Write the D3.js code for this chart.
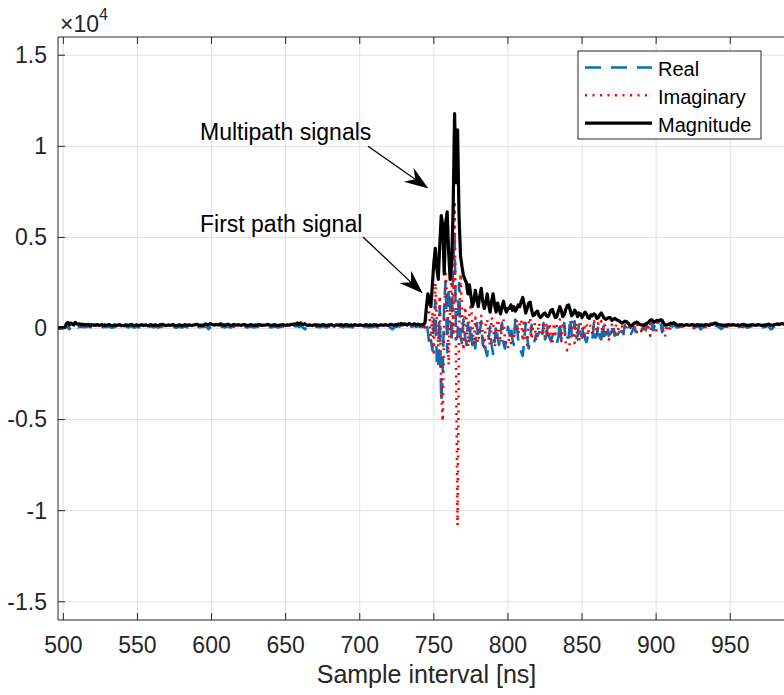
<!DOCTYPE html>
<html>
<head>
<meta charset="utf-8">
<script src="https://cdn.jsdelivr.net/npm/d3@7"></script>
<style>
  html, body { margin: 0; padding: 0; background: #fff; overflow: hidden; }
  svg { display: block; font-family: "Liberation Sans", Arial, Helvetica, sans-serif; }
</style>
</head>
<body>
<svg id="chart" width="784" height="695"></svg>
<script>
// Channel impulse response, one sample per ns starting at 496 ns (raw counts)
const sampleStart = 496;
const sampleStep = 1;

const realPart = [
  10, 20, 10, 30, 20, 30, 120, 60, -40, 80,
  40, -60, 30, 100, 60, 120, 80, 110, 60, 100,
  90, 120, 70, 100, 80, 90, 60, 110, 50, 80,
  110, 70, 100, 80, 90, 120, 60, 40, 80, 100,
  50, 90, 110, 80, 60, 40, 100, 90, 60, 110,
  130, 70, 50, 100, 90, 60, 80, 110, 50, 90,
  100, 40, 80, 120, 90, 60, 100, 80, 50, 90,
  110, 130, 90, 50, 80, 100, 60, 90, 120, 80,
  40, 60, 100, 90, 50, 80, 110, 90, 60, 100,
  80, 50, 90, 110, 130, 100, 60, 90, 80, 100,
  120, 60, -30, 40, 100, 70, 50, 110, 90, 70,
  130, 100, 80, 60, 90, 120, 80, 50, 90, 110,
  100, 70, 110, 90, 60, 100, 120, 90, 50, 80,
  100, 110, 70, 60, 100, 90, 120, 100, 60, 90,
  70, 100, 130, 90, 60, 70, 100, 110, 80, 50,
  90, 100, 120, 90, 60, 100, 80, 110, 130, 100,
  140, 110, 160, 80, 150, 100, 20, -40, 30, 60,
  40, -50, 30, 70, 110, 80, 100, 60, 90, 120,
  100, 70, 60, 100, 90, 110, 80, 50, 90, 100,
  70, 110, 90, 60, 100, 120, 90, 80, 100, 60,
  90, 110, 70, 60, 100, 90, 50, 70, 110, 90,
  60, 100, 70, 90, 120, 100, 60, 70, 100, 90,
  70, 110, 90, 60, 100, 30, -40, 20, 110, 90,
  140, 110, 160, 100, 150, 120, 80, 150, 140, 100,
  120, 150, 90, 130, 110, 80, 100, 90,
  120, 400, -200, -900, -600, -1200, 300, 1500, -1800, -2200,
  1200, -4000, -2500, 1500, 2600, -1300, 2200, 1200, -800, 3500,
  5200, -600, -400, 2500, -500, -800, 500, -400, -900, 300,
  -700, 200, -900, -500, -1100, 300, -600, -200, 400, -900,
  -500, -1200, -1500, -600, 100, -900, -1400, -700, 200, -500,
  -900, -300, 300, -800, -1100, -500, 100,
  -300, 200, -600, -900, 650, 300, -700, -1000, -1300, -1500,
  -600, 300, -500, -1100, -700, 200, -500, -700, -300, -400,
  -200, -500, -550, 300, -600, -400, 200, -500, -700, -400,
  -300, -600, -800, -500, 400, -600, -300, 300, -700, -500,
  -500, 600, -300, -500, 400, -600, -400, 300, -300, -500,
  200, -600, -750, -400, -500, -700, -600, 300, -500, -400,
  200, -500, -600, 300, -400, -350, 200, -400, -300, -200,
  300, -400, -300, -350, -200, 150, -200, -250, 200, -100,
  -200, -100, -300, -150, 100, -100, -200, 150, 50, -100,
  50, 100, -100, 150, -150, 200, 300, -100, 150, 200,
  250, 100, 300, -200, 150, 50, -100, 80, 120, 150,
  100, 180, 120, 50, 90, 110, 130, 100, 80, 120,
  130, 100, 80, 140, 110, 60, 90, 120, 80, -50,
  40, 80, 110, 130, 100, 60, 120, 100, 150, 170,
  140, 80, 30, -30, 60, 90, 110, 100, 120, 80,
  110, 140, 100, 60, 110, 90, 100, 120, 130, 110,
  60, 50, 90, 110, 130, 100, 60, 100, 120, 110,
  50, 60, 100, 90, 120, 130, -20, -40, 60, 110,
  140, 150, 120, 140, 170, 130, 150, 120, 140, 160
];

const imagPart = [
  20, 30, 20, 40, 30, 50, 220, 300, 180, 260,
  240, 180, 300, 240, 200, 220, 170, 200, 160, 190,
  170, 190, 150, 180, 160, 170, 160, 190, 140, 160,
  170, 150, 170, 150, 160, 180, 150, 130, 150, 170,
  140, 160, -30, 150, 140, 130, 170, 160, 150, 170,
  190, 160, 140, 170, 160, 150, 150, 180, 140, 160,
  170, 130, 150, 180, 160, 150, 170, 150, 140, -40,
  170, 190, 160, 140, 150, 170, 150, 160, 180, 150,
  140, 150, 170, 160, 140, 150, 180, 160, 150, 170,
  150, 140, 160, 180, 190, 170, 150, 160, 150, 170,
  210, 200, 180, 250, 200, 180, 160, 190, 180, 160,
  220, 190, 170, 160, 180, 200, 170, 150, 160, 190,
  170, 160, 180, 160, 150, 170, 190, 160, 140, 150,
  170, 180, 160, 150, 170, 160, 190, 170, 150, 160,
  150, 170, 190, 160, 150, 150, 170, 180, 160, 140,
  160, 170, 190, 160, 150, 170, 150, 180, 190, 170,
  210, 200, 250, 170, 260, 220, 200, 240, 160, 150,
  170, 160, 140, 160, 180, 150, 170, 150, 160, 190,
  170, 160, 150, 170, 160, 180, -50, 140, 160, 170,
  150, 180, 160, 150, 170, 190, 160, 150, 170, 150,
  160, 180, 150, 150, 170, 160, 140, 150, 180, 160,
  150, 170, 150, 160, 190, 170, 150, 150, 170, 160,
  150, 180, 160, 150, 170, 200, 180, 160, 180, 160,
  210, 190, 240, 170, 220, 190, 160, 230, 210, 180,
  190, 220, 170, 200, 190, 160, 180, 170,
  60, 700, 1300, 800, -700, 900, -1500, 2500, 600, -1000,
  1800, -3500, -5100, 800, 3000, 1500, -2000, 1000, 3000, -400,
  7000, -2000, -10800, -300, 3000, 1000, -1200, 1200, 500, -1000,
  800, 1400, 300, -900, 600, -500, -800, 300, 700, -400,
  -1200, 300, 500, -600, -900, 600, 400, -1000, -700, 500,
  200, -800, 300, 500, -600, -900, -1100,
  -300, -800, -400, -600, 200, 400, -300, 300, 500, -700,
  500, -600, -900, 300, 600, -600, 200, 300, -700, -300,
  300, -300, -400, 300, -500, 200, -500, 300, -600, -900,
  300, -300, 200, 400, 500, -700, 200, 300, -800, -1200,
  -1100, -700, 300, 400, -800, 300, -500, -800, 300, 200,
  -600, 300, 200, -400, 200, 100, -300, 400, 300, -300,
  300, 200, 400, -500, 200, 100, -400, -600, -500, 200,
  200, -400, 250, 200, -300, 150, 100, -300, 200, 250,
  150, -150, 100, 100, 200, -250, 200, 150, 100, -150,
  100, -150, 150, 200, 250, -400, 300, 250, 200, -300,
  350, 350, 400, 400, -250, -450, 150, 200, -200, 250,
  250, 250, 200, 180, 150, 100, -80, 120, 100, 150,
  150, 140, 160, 150, -80, 140, 150, 160, 150, 160,
  170, 150, 170, -60, 150, 150, 200, 200, 220, 250,
  220, 190, 150, 180, 150, -50, 170, 160, 170, 150,
  160, 170, 150, 140, 170, 150, 160, -60, 180, 170,
  150, 150, 160, 170, 180, 160, 150, 170, 170, 160,
  140, 150, 170, 160, 180, 200, 170, 150, 160, 170,
  190, 220, 190, 210, 230, 200, 210, 190, 200, 220
];

const magnitude = [
  30, 40, 30, 50, 40, 60, 260, 330, 190, 300,
  250, 190, 340, 270, 220, 260, 200, 240, 180, 220,
  200, 230, 170, 210, 190, 200, 180, 220, 160, 190,
  210, 170, 200, 180, 190, 220, 170, 150, 180, 200,
  160, 190, 210, 180, 170, 150, 200, 190, 170, 210,
  230, 180, 160, 200, 190, 170, 180, 210, 160, 190,
  200, 150, 180, 220, 190, 170, 200, 180, 160, 190,
  210, 230, 190, 160, 180, 200, 170, 190, 220, 180,
  150, 170, 200, 190, 160, 180, 210, 190, 170, 200,
  180, 160, 190, 210, 230, 200, 170, 190, 180, 200,
  250, 220, 190, 270, 240, 200, 180, 230, 210, 190,
  260, 220, 200, 180, 210, 240, 200, 170, 190, 220,
  200, 180, 210, 190, 170, 200, 220, 190, 160, 180,
  200, 210, 180, 170, 200, 190, 220, 200, 170, 190,
  180, 200, 230, 190, 170, 180, 200, 210, 180, 160,
  190, 200, 220, 190, 170, 200, 180, 210, 230, 200,
  260, 230, 300, 200, 310, 250, 220, 270, 190, 170,
  200, 180, 160, 190, 210, 180, 200, 170, 190, 220,
  200, 180, 170, 200, 190, 210, 180, 160, 190, 200,
  180, 210, 190, 170, 200, 220, 190, 180, 200, 170,
  190, 210, 180, 170, 200, 190, 160, 180, 210, 190,
  170, 200, 180, 190, 220, 200, 170, 180, 200, 190,
  180, 210, 190, 170, 200, 230, 200, 180, 210, 190,
  250, 220, 280, 200, 260, 230, 190, 270, 250, 210,
  230, 260, 200, 240, 220, 190, 210, 200,
  300, 1200, 1900, 1500, 1200, 2400, 3600, 4400, 3300, 2700,
  4600, 6200, 5700, 3000, 5800, 6400, 4200, 2700, 3500, 6500,
  11800, 8000, 10900, 6200, 4000, 3400, 2900, 2700, 2500, 1900,
  2400, 1800, 1200, 1500, 2100, 1600, 1200, 1800, 2200, 1500,
  1100, 1400, 1900, 1300, 900, 1500, 1900, 1300, 900, 1400,
  1100, 800, 1200, 1500, 1100, 900, 1100,
  1100, 1300, 1000, 1200, 950, 1100, 1300, 1200, 1500, 1700,
  1300, 850, 1100, 1400, 1450, 1000, 700, 750, 900, 950,
  700, 600, 700, 800, 850, 700, 650, 800, 1000, 1050,
  800, 600, 650, 950, 1200, 1000, 650, 750, 1050, 1250,
  1300, 1000, 700, 800, 1000, 900, 650, 850, 800, 600,
  750, 900, 800, 600, 550, 750, 700, 800, 750, 550,
  600, 750, 850, 700, 550, 500, 550, 600, 600, 450,
  500, 550, 500, 450, 420, 350, 300, 350, 400, 380,
  300, 200, 150, 200, 280, 320, 350, 300, 220, 200,
  180, 200, 250, 300, 350, 450, 480, 400, 350, 420,
  450, 400, 480, 450, 300, 200, 180, 220, 250, 300,
  280, 320, 250, 200, 180, 200, 220, 190, 170, 200,
  210, 180, 190, 220, 200, 170, 190, 210, 180, 200,
  190, 170, 200, 220, 190, 180, 250, 230, 280, 300,
  260, 220, 190, 200, 180, 170, 200, 190, 210, 180,
  200, 220, 190, 170, 200, 180, 190, 210, 230, 200,
  180, 170, 190, 200, 220, 190, 180, 200, 210, 190,
  170, 180, 200, 190, 220, 240, 200, 180, 190, 210,
  230, 260, 220, 250, 280, 240, 260, 230, 250, 270
];

const xTicks = [500, 550, 600, 650, 700, 750, 800, 850, 900, 950];
const yTicks = [-15000, -10000, -5000, 0, 5000, 10000, 15000];
const seriesNames = ["Real", "Imaginary", "Magnitude"];
const seriesColors = ["#0072BD", "#FF0000", "#000000"];

// Text callouts with arrows, anchored in data units (ns, counts)
const calloutLabels = ["Multipath signals", "First path signal"];
const calloutText = [[592.2, 10350], [592.2, 5300]];
const calloutFrom = [[705.6, 10000], [702.2, 5020]];
const calloutTo = [[746.3, 7690], [742.5, 1930]];

const plot = { left: 58, right: 795, top: 37, bottom: 620 };
const x = d3.scaleLinear().domain([496.4, 993.7]).range([plot.left, plot.right]);
const y = d3.scaleLinear().domain([-16000, 16000]).range([plot.bottom, plot.top]);

const svg = d3.select("#chart");
const axisColor = "#262626";
const tickFont = 23;

svg.append("defs").append("clipPath").attr("id", "plot-area")
  .append("rect")
  .attr("x", plot.left).attr("y", plot.top)
  .attr("width", plot.right - plot.left).attr("height", plot.bottom - plot.top);

// Grid
const grid = svg.append("g").attr("stroke", "#e2e2e2").attr("stroke-width", 1);
grid.selectAll("line.vx").data(xTicks).join("line")
  .attr("x1", d => x(d)).attr("x2", d => x(d))
  .attr("y1", plot.top).attr("y2", plot.bottom);
grid.selectAll("line.hy").data(yTicks).join("line")
  .attr("x1", plot.left).attr("x2", plot.right)
  .attr("y1", d => y(d)).attr("y2", d => y(d));

// Signal traces
const sampleTime = i => sampleStart + i * sampleStep;
const trace = d3.line().x((d, i) => x(sampleTime(i))).y(d => y(d));
const series = [
  { values: realPart, width: 2.6, dash: "16,10" },
  { values: imagPart, width: 2.6, dash: "2,5.5" },
  { values: magnitude, width: 3.2, dash: null }
];
const traces = svg.append("g").attr("clip-path", "url(#plot-area)");
series.forEach((s, k) => {
  traces.append("path")
    .attr("d", trace(s.values))
    .attr("fill", "none")
    .attr("stroke", seriesColors[k])
    .attr("stroke-width", s.width)
    .attr("stroke-linejoin", "round")
    .attr("stroke-dasharray", s.dash);
});

// Axes (ticks point inward)
const yFormat = d => d === 0 ? "0" : String(d / 10000);
const styleAxis = g => {
  g.attr("font-family", null).attr("font-size", tickFont);
  g.select(".domain").attr("stroke", axisColor);
  g.selectAll(".tick line").attr("stroke", axisColor);
  g.selectAll(".tick text").attr("fill", axisColor);
};
svg.append("g").attr("transform", `translate(0,${plot.bottom})`)
  .call(d3.axisBottom(x).tickValues(xTicks).tickSizeInner(-7).tickSizeOuter(0).tickPadding(17).offset(0))
  .call(styleAxis);
svg.append("g").attr("transform", `translate(0,${plot.top})`)
  .call(d3.axisTop(x).tickValues(xTicks).tickSizeInner(-7).tickSizeOuter(0).tickFormat("").offset(0))
  .call(styleAxis);
svg.append("g").attr("transform", `translate(${plot.left},0)`)
  .call(d3.axisLeft(y).tickValues(yTicks).tickFormat(yFormat).tickSizeInner(-7).tickSizeOuter(0).tickPadding(11).offset(0))
  .call(styleAxis)
  .call(g => g.selectAll(".tick text").attr("dy", "0.34em"));

// Exponent marker
const expo = svg.append("text").attr("x", 60).attr("y", 32)
  .attr("font-size", tickFont).attr("fill", axisColor);
expo.append("tspan").text("×10");
expo.append("tspan").attr("font-size", 16).attr("dy", -12).text("4");

// Axis label
svg.append("text")
  .attr("x", (plot.left + plot.right) / 2).attr("y", 683)
  .attr("text-anchor", "middle").attr("font-size", 25).attr("fill", axisColor)
  .text("Sample interval [ns]");

// Callouts
const arrowHead = (tip, from) => {
  const dx = tip[0] - from[0], dy = tip[1] - from[1];
  const len = Math.hypot(dx, dy);
  const ux = dx / len, uy = dy / len, nx = -uy, ny = ux;
  const L = 24, Wd = 8.5, notch = 16;
  const p = (a, b) => [tip[0] - ux * a + nx * b, tip[1] - uy * a + ny * b];
  return [tip, p(L, Wd), p(notch, 0), p(L, -Wd)];
};
calloutLabels.forEach((label, k) => {
  const g = svg.append("g");
  const from = [x(calloutFrom[k][0]), y(calloutFrom[k][1])];
  const to = [x(calloutTo[k][0]), y(calloutTo[k][1])];
  const head = arrowHead(to, from);
  g.append("line")
    .attr("x1", from[0]).attr("y1", from[1])
    .attr("x2", head[2][0]).attr("y2", head[2][1])
    .attr("stroke", "#000").attr("stroke-width", 1.3);
  g.append("path")
    .attr("d", "M" + head.map(p => p.join(",")).join("L") + "Z")
    .attr("fill", "#000");
  g.append("text")
    .attr("x", x(calloutText[k][0])).attr("y", y(calloutText[k][1]))
    .attr("font-size", 23).attr("fill", "#000")
    .text(label);
});

// Legend
const legend = svg.append("g");
legend.append("rect")
  .attr("x", 578).attr("y", 51).attr("width", 183).attr("height", 88)
  .attr("fill", "#fff").attr("stroke", axisColor).attr("stroke-width", 1);
seriesNames.forEach((name, k) => {
  const base = 76 + k * 27.8;
  legend.append("line")
    .attr("x1", 585).attr("x2", 652)
    .attr("y1", base - 8.5).attr("y2", base - 8.5)
    .attr("stroke", seriesColors[k])
    .attr("stroke-width", series[k].width)
    .attr("stroke-dasharray", series[k].dash);
  legend.append("text")
    .attr("x", 658).attr("y", base)
    .attr("font-size", 20).attr("fill", "#000")
    .text(name);
});
</script>
</body>
</html>
